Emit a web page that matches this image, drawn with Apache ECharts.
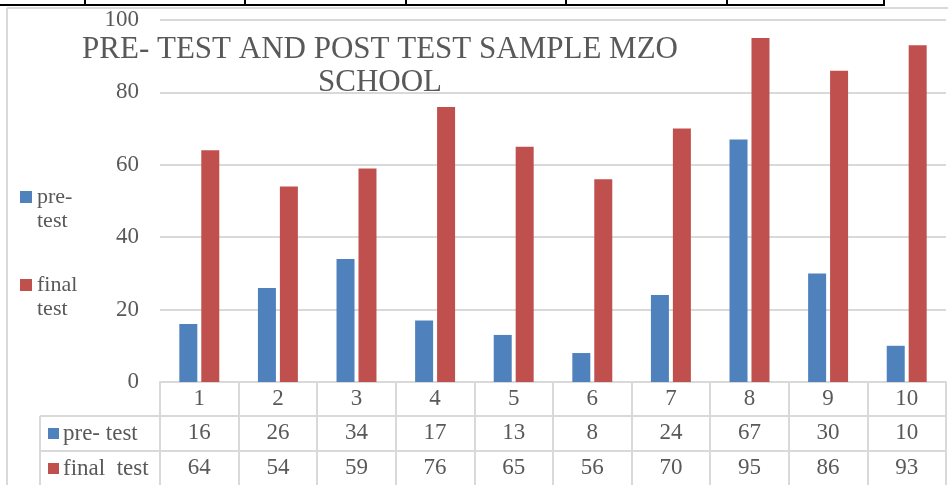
<!DOCTYPE html>
<html>
<head>
<meta charset="utf-8">
<script src="https://cdn.jsdelivr.net/npm/echarts@6/dist/echarts.min.js"></script>
<style>
  html, body { margin: 0; padding: 0; background: #fff; }
  #chart { width: 948px; height: 485px; }
</style>
</head>
<body>
<div id="chart"></div>
<script>
var categories = ['1', '2', '3', '4', '5', '6', '7', '8', '9', '10'];
var preTest = [16, 26, 34, 17, 13, 8, 24, 67, 30, 10];
var finalTest = [64, 54, 59, 76, 65, 56, 70, 95, 86, 93];
var seriesNames = ['pre- test', 'final  test'];
var yTicks = [0, 20, 40, 60, 80, 100];

var chart = echarts.init(document.getElementById('chart'));
var font = '"Liberation Serif", "Times New Roman", serif';
var textGrey = '#595959';
var lineGrey = '#d9d9d9';

function tableAxis(values, offset) {
    return {
        type: 'category',
        position: 'bottom',
        offset: offset,
        data: values.map(String),
        axisLine: { show: false },
        axisTick: { show: false },
        axisLabel: { color: textGrey, fontFamily: font, fontSize: 23, margin: 5 }
    };
}

var option = {
    animation: false,
    title: {
        text: 'PRE- TEST AND POST TEST SAMPLE MZO\nSCHOOL',
        left: 375,
        top: 28,
        textAlign: 'center',
        textStyle: { color: textGrey, fontFamily: font, fontSize: 31, fontWeight: 'normal', lineHeight: 33 }
    },
    legend: {
        orient: 'vertical',
        left: 15,
        top: 178,
        itemWidth: 12,
        itemHeight: 12,
        itemGap: 60,
        icon: 'rect',
        data: seriesNames,
        // legend wraps onto two lines in the original; second word drawn below
        formatter: function (name) {
            return name === seriesNames[0] ? 'pre-' : 'final';
        },
        textStyle: { color: textGrey, fontFamily: font, fontSize: 22, lineHeight: 28 }
    },
    grid: { left: 160, right: 2, top: 20, bottom: 103 },
    xAxis: [
        {
            type: 'category',
            data: categories,
            axisLine: { lineStyle: { color: lineGrey, width: 2 } },
            axisTick: { show: true, length: 103, lineStyle: { color: lineGrey, width: 2 } },
            axisLabel: { color: textGrey, fontFamily: font, fontSize: 23, margin: 5 }
        },
        tableAxis(preTest, 34),
        tableAxis(finalTest, 69)
    ],
    yAxis: {
        type: 'value',
        min: yTicks[0],
        max: yTicks[yTicks.length - 1],
        interval: 20,
        axisLine: { show: false },
        axisTick: { show: false },
        axisLabel: { color: textGrey, fontFamily: font, fontSize: 23, margin: 21 },
        splitLine: { lineStyle: { color: lineGrey, width: 2 } }
    },
    series: [
        {
            name: seriesNames[0],
            type: 'bar',
            data: preTest,
            barWidth: 18,
            barGap: '22%',
            itemStyle: { color: '#4f81bd' }
        },
        {
            name: seriesNames[1],
            type: 'bar',
            data: finalTest,
            barWidth: 18,
            itemStyle: { color: '#c0504d' }
        }
    ],
    graphic: [
        // leftover document table border at top
        { type: 'line', shape: { x1: 0, y1: 5, x2: 885, y2: 5 }, style: { stroke: '#000', lineWidth: 2 } },
        { type: 'line', shape: { x1: 85, y1: 0, x2: 85, y2: 5 }, style: { stroke: '#000', lineWidth: 2 } },
        { type: 'line', shape: { x1: 245, y1: 0, x2: 245, y2: 5 }, style: { stroke: '#000', lineWidth: 2 } },
        { type: 'line', shape: { x1: 406, y1: 0, x2: 406, y2: 5 }, style: { stroke: '#000', lineWidth: 2 } },
        { type: 'line', shape: { x1: 566, y1: 0, x2: 566, y2: 5 }, style: { stroke: '#000', lineWidth: 2 } },
        { type: 'line', shape: { x1: 727, y1: 0, x2: 727, y2: 5 }, style: { stroke: '#000', lineWidth: 2 } },
        { type: 'line', shape: { x1: 884, y1: 0, x2: 884, y2: 5 }, style: { stroke: '#000', lineWidth: 2 } },
        // chart border
        { type: 'line', shape: { x1: 7, y1: 8, x2: 948, y2: 8 }, style: { stroke: lineGrey, lineWidth: 2 } },
        { type: 'line', shape: { x1: 7, y1: 8, x2: 7, y2: 485 }, style: { stroke: lineGrey, lineWidth: 2 } },
        // legend second lines
        { type: 'text', x: 37, y: 221, style: { text: 'test', fill: textGrey, font: '22px ' + font, verticalAlign: 'middle' } },
        { type: 'text', x: 37, y: 309, style: { text: 'test', fill: textGrey, font: '22px ' + font, verticalAlign: 'middle' } },
        // data table lines
        { type: 'line', shape: { x1: 40, y1: 416, x2: 946, y2: 416 }, style: { stroke: lineGrey, lineWidth: 2 } },
        { type: 'line', shape: { x1: 40, y1: 451, x2: 946, y2: 451 }, style: { stroke: lineGrey, lineWidth: 2 } },
        { type: 'line', shape: { x1: 40, y1: 416, x2: 40, y2: 485 }, style: { stroke: lineGrey, lineWidth: 2 } },
        // table row keys
        { type: 'rect', shape: { x: 48, y: 428, width: 11, height: 11 }, style: { fill: '#4f81bd' } },
        { type: 'text', x: 63, y: 434, style: { text: seriesNames[0], fill: textGrey, font: '23px ' + font, verticalAlign: 'middle' } },
        { type: 'rect', shape: { x: 48, y: 463, width: 11, height: 11 }, style: { fill: '#c0504d' } },
        { type: 'text', x: 63, y: 469, style: { text: seriesNames[1], fill: textGrey, font: '23px ' + font, verticalAlign: 'middle' } }
    ]
};

chart.setOption(option);
</script>
</body>
</html>
